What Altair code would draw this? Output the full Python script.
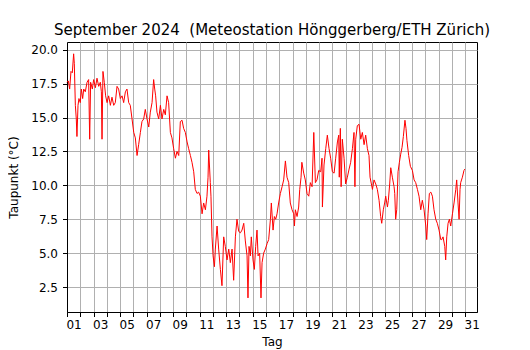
import altair as alt
import pandas as pd

TITLE = "September 2024\u00a0\u00a0(Meteostation Hönggerberg/ETH Zürich)"

# Day of month (fractional) and dew point (°C)
days_a = [1.00,1.10,1.20,1.30,1.40,1.50,1.55,1.63,1.70,1.75,1.83,1.90,2.00,2.08,2.18,2.26,2.38,2.51,2.63,2.71,
          2.78,2.91,3.01,3.14,3.26,3.39,3.51,3.59,3.64,3.71,3.81,3.91,4.02,4.14,4.27,4.39,4.52,4.64,4.77,4.89]
vals_a = [17.6,17.7,17.1,18.4,18.3,19.7,19.0,15.9,14.9,13.6,15.9,16.4,16.1,17.1,16.4,17.1,16.9,17.6,17.8,13.4,
          17.6,17.1,17.8,17.2,17.9,17.3,17.6,16.9,13.4,18.4,17.6,16.6,16.1,16.6,15.9,16.5,15.9,16.1,17.3,17.1]

days_b = [5.02,5.15,5.27,5.40,5.52,5.65,5.77,5.90,6.03,6.15,6.28,6.40,6.53,6.65,6.78,6.90,7.03,7.16,7.28,7.41,
          7.53,7.61,7.68,7.78,7.91,8.04,8.16,8.29,8.41,8.54,8.66,8.79,8.91,9.04,9.17,9.29,9.42,9.54,9.67,9.79,9.92]
vals_b = [16.4,16.6,16.1,16.9,17.1,16.1,15.9,14.9,13.9,13.5,12.2,13.0,13.9,14.7,14.9,15.6,14.9,14.3,15.4,16.1,
          17.8,17.1,16.6,15.4,14.9,15.9,14.9,15.6,15.2,16.6,16.1,13.9,13.5,12.7,12.0,12.5,12.2,14.7,14.8,14.2,13.9]

days_c = [10.05,10.17,10.30,10.42,10.55,10.67,10.80,10.92,11.05,11.18,11.30,11.43,11.55,11.63,11.68,11.80,11.85,
          11.93,12.01,12.11,12.18,12.31,12.43,12.56,12.68,12.81,12.93,13.06,13.19,13.31,13.44,13.56,13.69,13.81,
          13.94,14.07,14.19,14.32,14.44,14.57,14.64,14.72,14.82,14.89]
vals_c = [13.2,12.7,12.2,11.7,11.0,9.7,9.4,9.5,9.2,7.9,8.7,8.2,9.2,10.6,12.6,10.2,9.2,
          6.2,4.8,4.0,5.3,7.0,5.3,3.8,2.6,6.2,5.5,4.5,5.3,4.3,5.3,3.0,6.2,7.5,
          6.6,6.5,6.7,7.2,5.9,4.8,1.7,5.5,4.8,6.2]

days_d = [15.02,15.12,15.22,15.32,15.40,15.52,15.62,15.70,15.82,15.95,16.08,16.20,16.33,16.40,16.53,16.63,16.73,
          16.83,16.95,17.08,17.21,17.33,17.46,17.58,17.71,17.83,17.96,18.09,18.14,18.21,18.34,18.46,18.54,18.64,
          18.70,18.84,18.96,19.09,19.22,19.34,19.47,19.60,19.72,19.84,19.97]
vals_d = [4.5,3.8,5.5,6.7,4.8,5.0,1.7,4.3,5.0,5.3,5.7,6.0,7.5,8.7,6.7,7.7,7.5,
          7.9,8.7,9.4,9.9,10.4,11.8,10.6,10.2,8.7,8.2,7.9,7.0,8.2,7.7,8.4,9.7,10.6,
          11.7,10.9,10.4,9.4,9.2,10.2,9.9,13.9,10.2,10.4,11.1]

days_e = [20.12,20.22,20.25,20.37,20.50,20.62,20.75,20.87,21.00,21.13,21.25,21.38,21.48,21.52,21.60,21.66,21.75,
          21.88,22.00,22.13,22.26,22.38,22.51,22.63,22.70,22.76,22.88,23.01,23.14,23.26,23.39,23.51,23.64,23.76,
          23.84,23.94,24.02,24.14,24.27,24.39,24.52,24.64,24.72,24.84,24.94]
vals_e = [11.0,12.0,8.4,11.5,12.7,13.7,12.7,12.0,11.0,10.9,12.0,13.2,13.7,10.6,14.2,9.9,13.4,
          12.0,10.1,10.6,11.2,11.7,12.7,13.9,9.9,13.4,14.4,14.5,13.4,13.9,13.0,13.7,12.7,12.2,
          10.6,10.1,9.7,10.4,10.1,9.7,8.9,7.7,7.2,8.2,8.7]

days_f = [25.02,25.15,25.22,25.32,25.40,25.52,25.65,25.70,25.77,25.85,25.95,26.05,26.15,26.25,26.35,26.47,26.55,
          26.62,26.75,26.88,27.03,27.16,27.28,27.41,27.53,27.66,27.78,27.91,28.04,28.11,28.21,28.31,28.42,28.54,
          28.66,28.79,28.91,29.04,29.17,29.24,29.34,29.47,29.54,29.62,29.72,29.82,29.92,30.05,30.17,30.30,30.37,
          30.47,30.55,30.62,30.67,30.80,30.92,30.98]
vals_f = [9.2,8.4,8.9,10.1,11.3,10.6,9.9,9.4,7.5,8.2,11.0,11.7,12.3,12.8,13.6,14.8,14.2,
          13.3,12.2,11.4,11.1,10.4,10.2,9.7,9.2,8.2,8.9,8.2,7.0,6.0,7.9,9.4,9.5,9.2,
          8.2,7.5,7.2,6.7,6.0,6.0,6.2,5.5,4.5,6.2,7.2,7.5,7.0,7.9,8.7,9.7,10.4,
          8.7,7.5,9.7,10.2,10.6,11.1,11.2]

x_ticks = list(range(1, 32))
y_ticks = [2.5, 5.0, 7.5, 10.0, 12.5, 15.0, 17.5, 20.0]

days = days_a + days_b + days_c + days_d + days_e + days_f
vals = vals_a + vals_b + vals_c + vals_d + vals_e + vals_f
df = pd.DataFrame({"Tag": days, "Taupunkt": vals})

FONT = "DejaVu Sans"

chart = alt.Chart(df).mark_line(color="#ff0000", strokeWidth=1).encode(
    x=alt.X("Tag:Q",
            scale=alt.Scale(domain=[1, 31.9], nice=False, zero=False),
            axis=alt.Axis(values=x_ticks, title="Tag",
                          labelExpr="datum.value % 2 == 1 ? (datum.value < 10 ? '0' + datum.value : '' + datum.value) : ''",
                          labelOffset=6.6, labelFlush=False, labelOverlap=False,
                          labelPadding=3, titlePadding=6)),
    y=alt.Y("Taupunkt:Q",
            scale=alt.Scale(domain=[0.66, 20.57], nice=False, zero=False),
            axis=alt.Axis(values=y_ticks, format=".1f", title="Taupunkt (°C)",
                          labelPadding=5, titlePadding=10)),
).properties(
    width=410, height=270,
    title=alt.TitleParams(TITLE, fontSize=15, font=FONT, fontWeight="normal",
                          color="black", anchor="middle", offset=4),
    autosize=alt.AutoSizeParams(type="none"),
    padding={"left": 59, "top": 34, "right": 20, "bottom": 40},
).configure_axis(
    labelFont=FONT, titleFont=FONT, labelFontSize=12, titleFontSize=12,
    titleFontWeight="normal", labelColor="black", titleColor="black",
    domainColor="black", domainWidth=1, tickColor="black", tickWidth=1, tickSize=4.5,
    grid=True, gridColor="#b0b0b0", gridWidth=1,
).configure_view(
    stroke="black", strokeWidth=1,
)

chart.save("out.html", embed_options={"renderer": "svg", "actions": False})
